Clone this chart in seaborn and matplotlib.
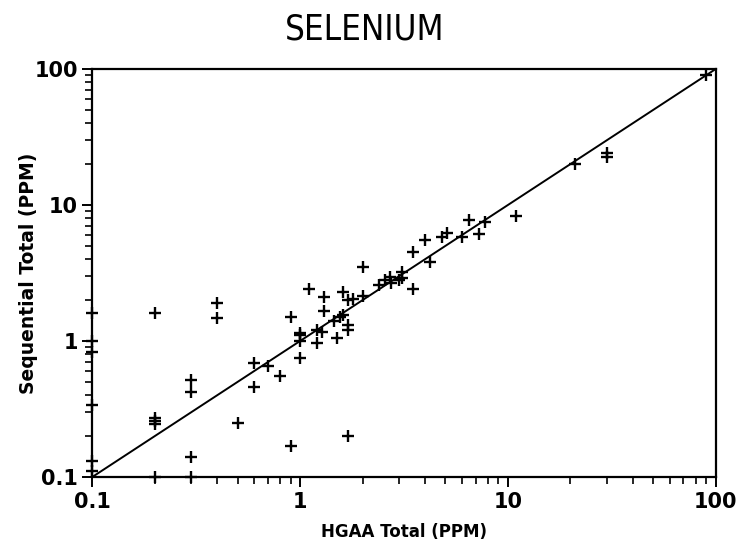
import numpy as np
import pandas as pd
import matplotlib
matplotlib.use('Agg')
import matplotlib.pyplot as plt
import matplotlib.ticker as mticker
import seaborn as sns

# HGAA total vs sequential total, selenium (ppm)
hgaa = [0.1, 0.1, 0.1, 0.1, 0.1, 0.1,
        0.2, 0.2, 0.2, 0.2, 0.2,
        0.3, 0.3, 0.3, 0.3,
        0.4, 0.4, 0.5, 0.6, 0.6, 0.7, 0.8, 0.9, 0.9,
        1.0, 1.0, 1.0, 1.0, 1.1, 1.2, 1.2, 1.27, 1.3, 1.3,
        1.45, 1.5, 1.55, 1.6, 1.6, 1.7, 1.7, 1.7, 1.7, 1.8,
        2.0, 2.0, 2.4, 2.55, 2.7, 2.75, 3.0, 3.1, 3.1, 3.5, 3.5,
        4.0, 4.2, 4.8, 5.1, 6.0, 6.5, 7.3, 7.8,
        11, 21, 30, 30, 90]
seq = [1.6, 1.0, 0.83, 0.34, 0.13, 0.11,
       1.6, 0.27, 0.26, 0.245, 0.1,
       0.52, 0.42, 0.14, 0.1,
       1.9, 1.47, 0.25, 0.69, 0.46, 0.65, 0.55, 1.5, 0.17,
       1.14, 1.0, 0.75, 1.1, 2.4, 1.2, 0.96, 1.17, 2.1, 1.66,
       1.4, 1.06, 1.5, 1.55, 2.3, 2.0, 1.3, 1.2, 0.2, 2.05,
       3.5, 2.15, 2.6, 2.8, 2.95, 2.65, 2.8, 3.2, 2.9, 4.5, 2.4,
       5.5, 3.8, 5.8, 6.2, 5.8, 7.8, 6.1, 7.5,
       8.3, 20, 24.3, 22.7, 90]

line_ends = [0.1, 100]
tick_vals = [0.1, 1, 10, 100]
tick_labels = ['0.1', '1', '10', '100']

df = pd.DataFrame({'hgaa': hgaa, 'seq': seq})

sns.set_style('ticks')
plt.rcParams['font.family'] = ['DejaVu Sans']
plt.rcParams['text.color'] = 'black'
plt.rcParams['axes.labelcolor'] = 'black'

fig = plt.figure(figsize=(7.36, 5.4), dpi=100)
ax = fig.add_axes([0.1254, 0.1167, 0.847, 0.7555])

sns.lineplot(x=line_ends, y=line_ends, color='black', linewidth=1.4, ax=ax)
sns.scatterplot(data=df, x='hgaa', y='seq', marker='+', s=80, color='black',
                linewidth=1.7, ax=ax, clip_on=False, zorder=3)

ax.set_xscale('log')
ax.set_yscale('log')
ax.set_xlim(0.1, 100)
ax.set_ylim(0.1, 100)

ax.set_xticks(tick_vals)
ax.set_xticklabels(tick_labels)
ax.set_yticks(tick_vals)
ax.set_yticklabels(tick_labels)
ax.xaxis.set_minor_formatter(mticker.NullFormatter())
ax.yaxis.set_minor_formatter(mticker.NullFormatter())
ax.tick_params(which='major', direction='out', length=7, width=1.4, labelsize=15,
               colors='black')
ax.tick_params(which='minor', direction='out', length=5, width=1.2, colors='black')
for lab in ax.get_xticklabels() + ax.get_yticklabels():
    lab.set_fontweight('bold')

for sp in ax.spines.values():
    sp.set_visible(True)
    sp.set_linewidth(1.6)
    sp.set_color('black')

ax.set_xlabel('HGAA Total (PPM)', fontsize=12, fontweight='bold', labelpad=8)
ax.set_ylabel('Sequential Total (PPM)', fontsize=13.5, fontweight='bold', labelpad=-3)

fig.text(365 / 736, 1 - 29 / 540, 'SELENIUM', ha='center', va='center',
         fontsize=25, fontstretch='condensed', fontweight='light',
         family=['DejaVu Sans'])

fig.savefig('out.png', dpi=100)
